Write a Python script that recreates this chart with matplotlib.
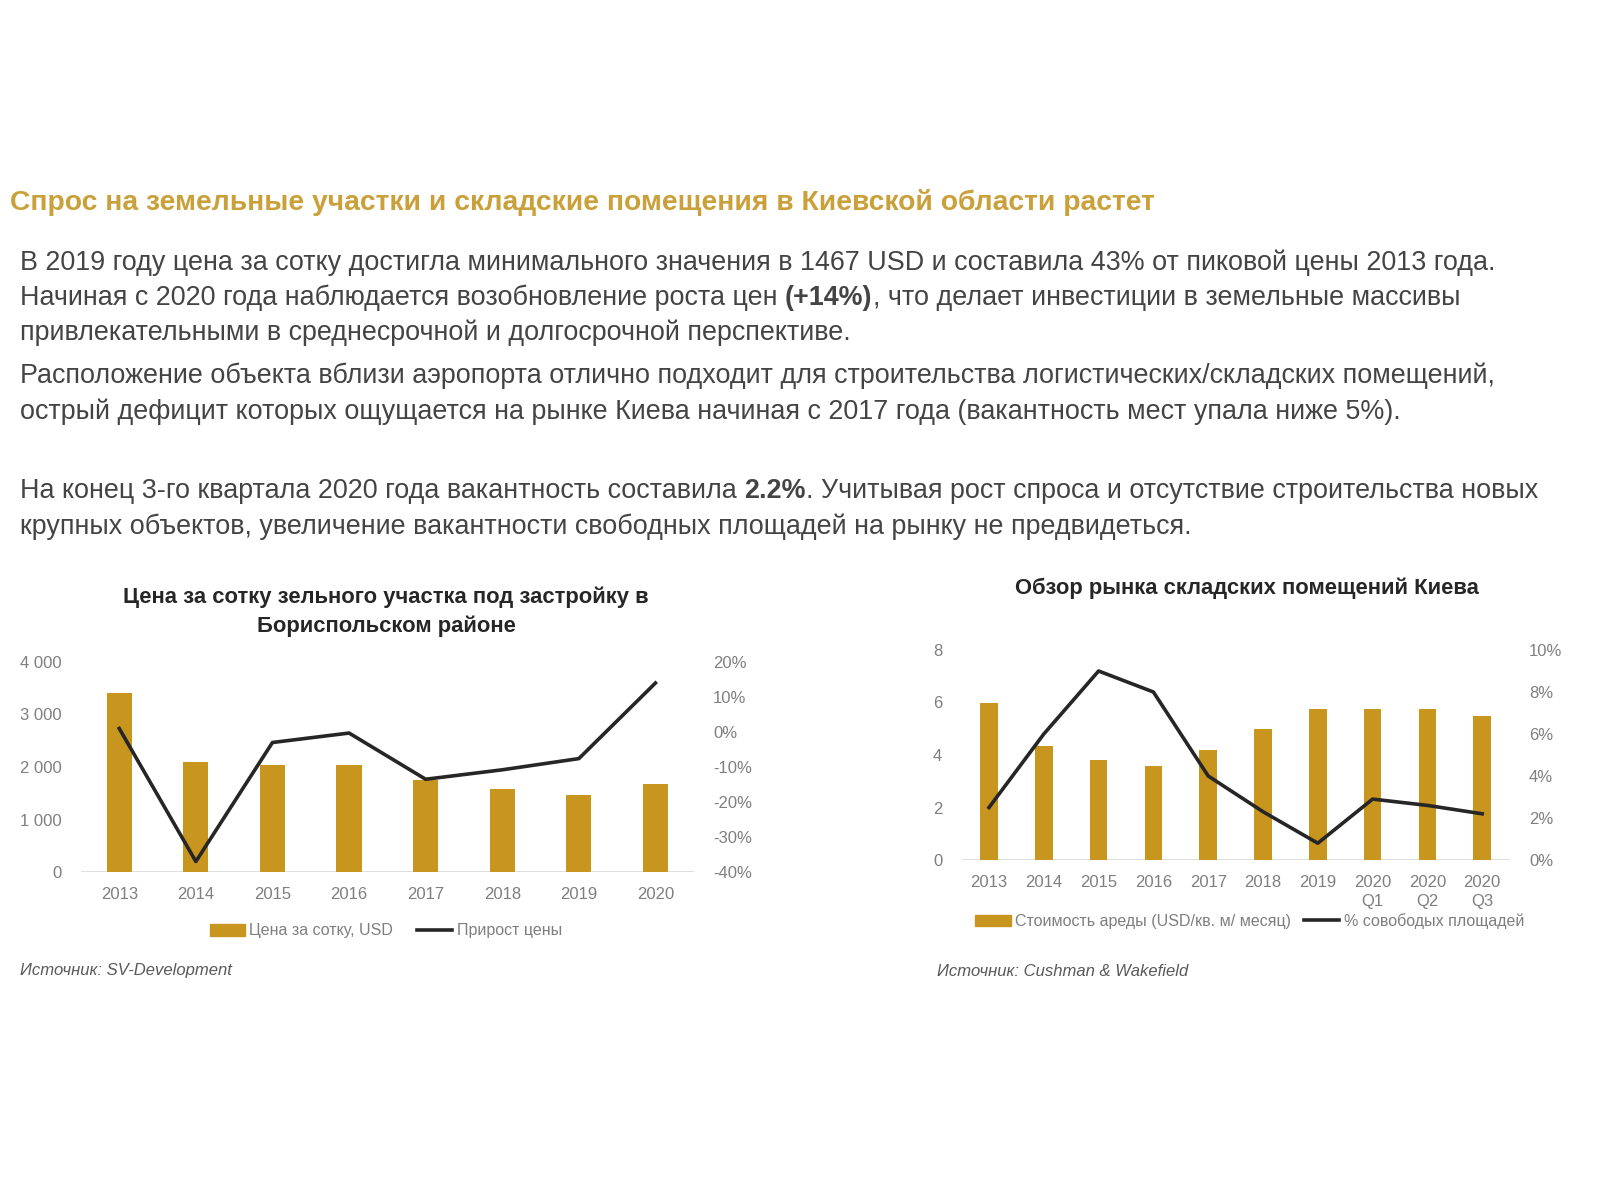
import matplotlib
matplotlib.use("Agg")

import matplotlib.pyplot as plt
import matplotlib.ticker as mticker
from matplotlib.patches import Patch
from matplotlib.lines import Line2D
import numpy as np

# ---- data -------------------------------------------------------------
land_years = ["2013", "2014", "2015", "2016", "2017", "2018", "2019", "2020"]
land_price = [3412, 2100, 2045, 2045, 1750, 1590, 1467, 1672]        # USD per sotka
land_growth = [1.0, -37.0, -3.0, -0.3, -13.5, -10.8, -7.6, 14.0]     # %

wh_periods = ["2013", "2014", "2015", "2016", "2017", "2018", "2019",
              "2020\nQ1", "2020\nQ2", "2020\nQ3"]
wh_rent = [6.0, 4.35, 3.8, 3.6, 4.2, 5.0, 5.75, 5.75, 5.75, 5.5]       # USD/m2/month
wh_vacancy = [2.5, 6.0, 9.0, 8.0, 4.0, 2.3, 0.8, 2.9, 2.6, 2.2]       # %

HEADING = "Спрос на земельные участки и складские помещения в Киевской области растет"
BODY = [
    [("В 2019 году цена за сотку достигла минимального значения в 1467 USD и составила 43% от пиковой цены 2013 года.", False)],
    [("Начиная с 2020 года наблюдается возобновление роста цен ", False), ("(+14%)", True),
     (", что делает инвестиции в земельные массивы", False)],
    [("привлекательными в среднесрочной и долгосрочной перспективе.", False)],
    [("Расположение объекта вблизи аэропорта отлично подходит для строительства логистических/складских помещений,", False)],
    [("острый дефицит которых ощущается на рынке Киева начиная с 2017 года (вакантность мест упала ниже 5%).", False)],
    [("На конец 3-го квартала 2020 года вакантность составила ", False), ("2.2%", True),
     (". Учитывая рост спроса и отсутствие строительства новых", False)],
    [("крупных объектов, увеличение вакантности свободных площадей на рынку не предвидеться.", False)],
]
BODY_Y = [263, 298, 333, 376, 412, 491, 527]   # pixel rows from top

GOLD = "#C8961E"
HEAD_GOLD = "#C9A03A"
TEXT = "#444444"
TICK = "#7F7F7F"
FONT = ["Liberation Sans", "DejaVu Sans"]

plt.rcParams["font.family"] = FONT

W, H = 1600, 1200
fig = plt.figure(figsize=(16, 12), dpi=100)
fig.patch.set_facecolor("white")


def fy(px):
    return 1 - px / H


def fx(px):
    return px / W


def draw_runs(x, y, runs, size, color):
    renderer = fig.canvas.get_renderer()
    cur = fx(x)
    for txt, bold in runs:
        t = fig.text(cur, fy(y), txt, fontsize=size, color=color,
                     fontweight="bold" if bold else "normal", va="center", ha="left")
        bb = t.get_window_extent(renderer=renderer)
        cur += bb.width / W


# ---- text block ---------------------------------------------------------
fig.text(fx(10), fy(203), HEADING, fontsize=20.3, fontweight="bold",
         color=HEAD_GOLD, va="center", ha="left")
for runs, y in zip(BODY, BODY_Y):
    draw_runs(20, y, runs, 19.4, TEXT)


def style_axes(ax, ax2):
    for a in (ax, ax2):
        for s in a.spines.values():
            s.set_visible(False)
        a.tick_params(length=0, labelsize=12, labelcolor=TICK)
    ax.axhline(0, color="#D9D9D9", linewidth=1.2, zorder=1)
    ax.tick_params(axis="x", pad=11)
    ax.tick_params(axis="y", pad=14)
    ax2.tick_params(axis="y", pad=14)


# ---- left chart -----------------------------------------------------------
axL = fig.add_axes([0.0506, 1 - 872 / H, 0.383, 210 / H])
axL2 = axL.twinx()
xL = np.arange(len(land_years))
axL.bar(xL, land_price, width=0.33, color=GOLD, zorder=2)
axL2.plot(xL, land_growth, color="#262626", linewidth=2.6, zorder=3)
axL.set_xlim(-0.5, len(land_years) - 0.5)
axL.set_ylim(0, 4000)
axL.set_yticks(range(0, 4001, 1000))
axL.yaxis.set_major_formatter(mticker.FuncFormatter(lambda v, p: f"{int(v):,}".replace(",", " ")))
axL2.set_ylim(-40, 20)
axL2.set_yticks(range(-40, 21, 10))
axL2.yaxis.set_major_formatter(mticker.FuncFormatter(lambda v, p: f"{int(v)}%"))
axL.set_xticks(xL)
axL.set_xticklabels(land_years)
style_axes(axL, axL2)

fig.text(fx(386), fy(612), "Цена за сотку зельного участка под застройку в\nБориспольском районе",
         fontsize=15.8, fontweight="bold", color="#262626", ha="center", va="center",
         linespacing=1.45)
fig.legend(handles=[Patch(color=GOLD, label="Цена за сотку, USD"),
                    Line2D([], [], color="#262626", linewidth=2.6, label="Прирост цены")],
           loc="center", bbox_to_anchor=(fx(386), fy(931)), ncol=2, frameon=False,
           fontsize=11.5, labelcolor=TICK, handlelength=2.2, columnspacing=1.5,
           handletextpad=0.3)
fig.text(fx(20), fy(970), "Источник: SV-Development", fontsize=12, style="italic",
         color="#595959", va="center")

# ---- right chart ----------------------------------------------------------
axR = fig.add_axes([0.601, 1 - 860 / H, 0.3425, 210 / H])
axR2 = axR.twinx()
xR = np.arange(len(wh_periods))
axR.bar(xR, wh_rent, width=0.32, color=GOLD, zorder=2)
axR2.plot(xR, wh_vacancy, color="#262626", linewidth=2.6, zorder=3)
axR.set_xlim(-0.5, len(wh_periods) - 0.5)
axR.set_ylim(0, 8)
axR.set_yticks(range(0, 9, 2))
axR2.set_ylim(0, 10)
axR2.set_yticks(range(0, 11, 2))
axR2.yaxis.set_major_formatter(mticker.FuncFormatter(lambda v, p: f"{int(v)}%"))
axR.set_xticks(xR)
axR.set_xticklabels(wh_periods, linespacing=1.35)
style_axes(axR, axR2)

fig.text(fx(1247), fy(588), "Обзор рынка складских помещений Киева",
         fontsize=15.8, fontweight="bold", color="#262626", ha="center", va="center")
fig.legend(handles=[Patch(color=GOLD, label="Стоимость ареды (USD/кв. м/ месяц)"),
                    Line2D([], [], color="#262626", linewidth=2.6, label="% совободых площадей")],
           loc="center", bbox_to_anchor=(fx(1250), fy(921)), ncol=2, frameon=False,
           fontsize=11.5, labelcolor=TICK, handlelength=2.2, columnspacing=0.8,
           handletextpad=0.3)
fig.text(fx(937), fy(971), "Источник: Cushman & Wakefield", fontsize=12, style="italic",
         color="#595959", va="center")

fig.savefig("out.png", dpi=100, facecolor="white")
